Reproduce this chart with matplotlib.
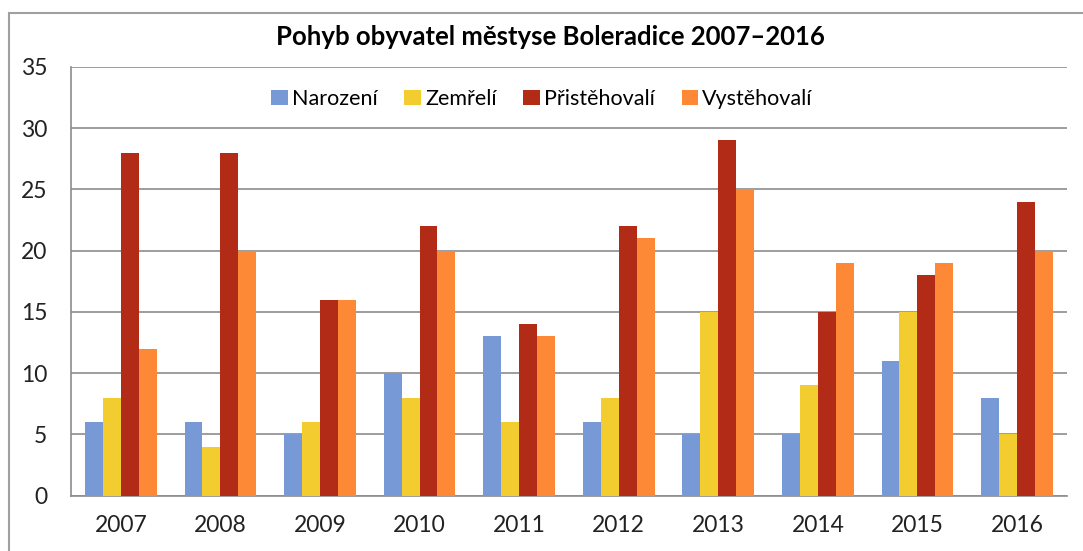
import numpy as np
import matplotlib.pyplot as plt
from matplotlib.patches import Rectangle

years = ["2007", "2008", "2009", "2010", "2011", "2012", "2013", "2014", "2015", "2016"]
narozeni = [6, 6, 5, 10, 13, 6, 5, 5, 11, 8]
zemreli = [8, 4, 6, 8, 6, 8, 15, 9, 15, 5]
pristehovali = [28, 28, 16, 22, 14, 22, 29, 15, 18, 24]
vystehovali = [12, 20, 16, 20, 13, 21, 25, 19, 19, 20]

series = [
    ("Narození", narozeni, "#7799d6"),
    ("Zemřelí", zemreli, "#f3cd30"),
    ("Přistěhovalí", pristehovali, "#b22b16"),
    ("Vystěhovalí", vystehovali, "#fd8836"),
]


def main():
    plt.rcParams['font.family'] = ['Lato', 'DejaVu Sans']
    fig = plt.figure(figsize=(10.83, 5.51), dpi=100)
    ax = fig.add_axes([0.0656, 0.1007, 0.9194, 0.7781])

    # outer chart frame
    fig.patches.append(Rectangle((8.5 / 1083, -0.05), 1.1, 1 - 12.5 / 551 + 0.05,
                                 transform=fig.transFigure, fill=False,
                                 edgecolor="#a0a0a0", linewidth=1.5))

    x = np.arange(len(years))
    w = 0.18
    for i, (name, vals, col) in enumerate(series):
        ax.bar(x + (i - 1.5) * w, vals, w, color=col, label=name, zorder=3)

    ax.set_xlim(-0.5, len(years) - 0.5)
    ax.set_ylim(0, 35)
    ax.set_yticks(range(0, 36, 5))
    ax.set_xticks(x)
    ax.set_xticklabels(years)
    ax.grid(axis="y", color="#8c8c8c", linewidth=1.2, zorder=0)
    for s in ["top", "right"]:
        ax.spines[s].set_visible(False)
    ax.spines["left"].set_color("#8c8c8c")
    ax.spines["bottom"].set_color("#8c8c8c")
    ax.spines["left"].set_linewidth(1.2)
    ax.spines["bottom"].set_linewidth(1.2)
    ax.tick_params(length=0, labelsize=16.5, colors="#222222")
    ax.tick_params(axis="x", pad=14)
    ax.tick_params(axis="y", pad=17)

    ax.set_title("Pohyb obyvatel městyse Boleradice 2007–2016", fontsize=18.5,
                 fontweight="bold", pad=16, x=0.481)

    ax.legend(loc="center", bbox_to_anchor=(0.473, 0.925), ncol=4, frameon=False,
              fontsize=15.5, handlelength=0.75, handleheight=0.75, handletextpad=0.2,
              columnspacing=1.25)

    fig.savefig("out.png", dpi=100)


if __name__ == "__main__":
    main()
